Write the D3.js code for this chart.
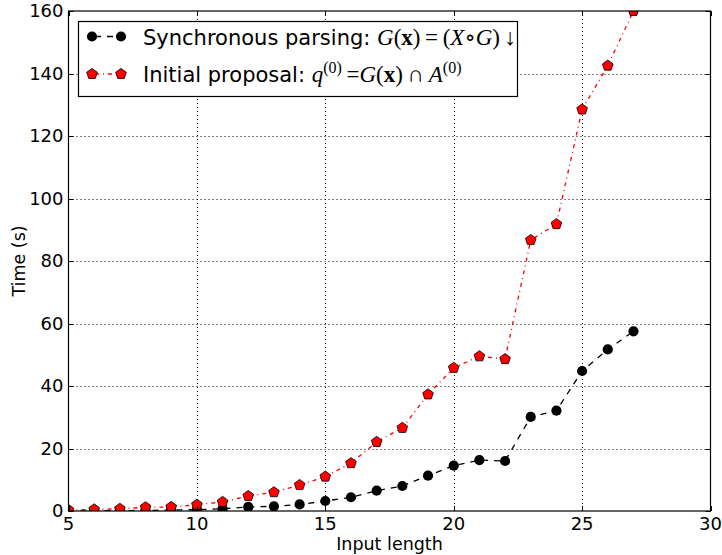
<!DOCTYPE html>
<html>
  <head>
    <meta charset="utf-8">
    <title>Parsing time vs input length</title>
    <style>
      body { margin: 0; background: #fff; }
      svg { display: block; font-family: "DejaVu Sans", sans-serif; }
      .tick-label { font-size: 18px; }
      .axis-label { font-size: 17.5px; }
      .legend-text { font-size: 21px; }
      .math { font-family: "Liberation Serif", "DejaVu Serif", serif; font-style: italic; font-size: 23px; }
      .up { font-style: normal; }
    </style>
  </head>
  <body>
    <svg id="chart" width="722" height="555"></svg>
    <script src="https://cdn.jsdelivr.net/npm/d3@7"></script>
    <script>
// data
var lengths = [5, 6, 7, 8, 9, 10, 11, 12, 13, 14, 15, 16, 17, 18, 19, 20, 21, 22, 23, 24, 25, 26, 27];
var syncTimes = [0.05, 0.08, 0.12, 0.2, 0.3, 0.45, 0.7, 1.3, 1.5, 2.1, 3.2, 4.4, 6.5, 8.0, 11.3, 14.5, 16.3, 16.0, 30.1, 32.1, 44.8, 51.7, 57.5];
var proposalTimes = [0.3, 0.5, 0.7, 1.2, 1.3, 2.0, 2.9, 4.8, 6.0, 8.3, 11.0, 15.3, 22.1, 26.6, 37.3, 45.8, 49.5, 48.6, 86.7, 91.8, 128.5, 142.5, 160];
var xTicks = [5, 10, 15, 20, 25, 30];
var yTicks = [0, 20, 40, 60, 80, 100, 120, 140, 160];

// plot box (named so it doesn't clash with window.top)
var pLeft = 68.5, pRight = 710.5, pTop = 11, pBottom = 511;
var svg = d3.select("#chart");

var x = d3.scaleLinear().domain([5, 30]).range([pLeft, pRight]);
var y = d3.scaleLinear().domain([0, 160]).range([pBottom, pTop]);

svg.append("defs").append("clipPath").attr("id", "plot-clip")
  .append("rect")
    .attr("x", pLeft).attr("y", pTop)
    .attr("width", pRight - pLeft).attr("height", pBottom - pTop);

// grid
var grid = svg.append("g").attr("stroke", "#000").attr("stroke-width", 1)
    .attr("stroke-dasharray", "1,3");
grid.selectAll(".gx").data(xTicks.slice(1, -1)).enter().append("line")
    .attr("x1", d => Math.round(x(d)) + 0.5).attr("x2", d => Math.round(x(d)) + 0.5)
    .attr("y1", pTop).attr("y2", pBottom);
grid.selectAll(".gy").data(yTicks.slice(1, -1)).enter().append("line")
    .attr("y1", d => Math.round(y(d)) + 0.5).attr("y2", d => Math.round(y(d)) + 0.5)
    .attr("x1", pLeft).attr("x2", pRight);

var plot = svg.append("g").attr("clip-path", "url(#plot-clip)");

var line = d3.line().x(d => x(d[0])).y(d => y(d[1]));
var syncData = d3.zip(lengths, syncTimes);
var propData = d3.zip(lengths, proposalTimes);

function pentagonPath(r) {
  var pts = d3.range(5).map(i => {
    var a = -Math.PI / 2 + i * 2 * Math.PI / 5;
    return [r * Math.cos(a), r * Math.sin(a)];
  });
  return "M" + pts.map(p => p.join(",")).join("L") + "Z";
}

plot.append("path").datum(syncData)
    .attr("d", line).attr("fill", "none")
    .attr("stroke", "#000").attr("stroke-width", 1.3)
    .attr("stroke-dasharray", "6,6");
plot.selectAll(".sync").data(syncData).enter().append("circle")
    .attr("cx", d => x(d[0])).attr("cy", d => y(d[1])).attr("r", 5.1)
    .attr("fill", "#000");

plot.append("path").datum(propData)
    .attr("d", line).attr("fill", "none")
    .attr("stroke", "#ff0000").attr("stroke-width", 1.3)
    .attr("stroke-dasharray", "4,4,1,4");
plot.selectAll(".prop").data(propData).enter().append("path")
    .attr("transform", d => "translate(" + x(d[0]) + "," + y(d[1]) + ")")
    .attr("d", pentagonPath(5.6))
    .attr("fill", "#ff0000").attr("stroke", "#000").attr("stroke-width", 0.8);

// frame
svg.append("rect")
    .attr("x", pLeft).attr("y", pTop)
    .attr("width", pRight - pLeft).attr("height", pBottom - pTop)
    .attr("fill", "none").attr("stroke", "#000").attr("stroke-width", 1.2);

// ticks (inside, all four sides)
var tickLen = 5;
var ticks = svg.append("g").attr("stroke", "#000").attr("stroke-width", 1);
xTicks.forEach(t => {
  var px = Math.round(x(t)) + 0.5;
  ticks.append("line").attr("x1", px).attr("x2", px).attr("y1", pBottom).attr("y2", pBottom - tickLen);
  ticks.append("line").attr("x1", px).attr("x2", px).attr("y1", pTop).attr("y2", pTop + tickLen);
});
yTicks.forEach(t => {
  var py = Math.round(y(t)) + 0.5;
  ticks.append("line").attr("y1", py).attr("y2", py).attr("x1", pLeft).attr("x2", pLeft + tickLen);
  ticks.append("line").attr("y1", py).attr("y2", py).attr("x1", pRight).attr("x2", pRight - tickLen);
});

svg.selectAll(".xl").data(xTicks).enter().append("text")
    .attr("class", "tick-label")
    .attr("x", d => x(d)).attr("y", 530)
    .attr("text-anchor", "middle")
    .text(d => d);
svg.selectAll(".yl").data(yTicks).enter().append("text")
    .attr("class", "tick-label")
    .attr("x", pLeft - 5).attr("y", d => y(d))
    .attr("dy", "0.36em")
    .attr("text-anchor", "end")
    .text(d => d);

svg.append("text").attr("class", "axis-label")
    .attr("x", (pLeft + pRight) / 2).attr("y", 550)
    .attr("text-anchor", "middle").text("Input length");
svg.append("text").attr("class", "axis-label")
    .attr("transform", "translate(25," + (pTop + pBottom) / 2 + ") rotate(-90)")
    .attr("text-anchor", "middle").text("Time (s)");

// legend
var legend = svg.append("g");
legend.append("rect")
    .attr("x", 78.5).attr("y", 21.5).attr("width", 439).attr("height", 75)
    .attr("fill", "#fff").attr("stroke", "#000").attr("stroke-width", 1.2);

var rowY = [36.5, 74];
legend.append("line").attr("x1", 92).attr("x2", 121).attr("y1", rowY[0]).attr("y2", rowY[0])
    .attr("stroke", "#000").attr("stroke-width", 1.3).attr("stroke-dasharray", "6,6")
    .attr("stroke-dashoffset", -3);
[92, 121].forEach(px => legend.append("circle").attr("cx", px).attr("cy", rowY[0]).attr("r", 5.1).attr("fill", "#000"));
legend.append("line").attr("x1", 92).attr("x2", 121).attr("y1", rowY[1]).attr("y2", rowY[1])
    .attr("stroke", "#ff0000").attr("stroke-width", 1.3).attr("stroke-dasharray", "4,4,1,4")
    .attr("stroke-dashoffset", -3);
[92, 121].forEach(px => legend.append("path")
    .attr("transform", "translate(" + px + "," + rowY[1] + ")")
    .attr("d", pentagonPath(5.6))
    .attr("fill", "#ff0000").attr("stroke", "#000").attr("stroke-width", 0.8));

function mathRun(text, parts) {
  parts.forEach(p => {
    var s = text.append("tspan").attr("class", "math" + (p.up ? " up" : "")).text(p.t);
    if (p.bold) s.style("font-weight", "bold");
    if (p.sup) s.style("font-size", "16px");
    if (p.dy) s.attr("dy", p.dy);
  });
}

var t1 = legend.append("text").attr("class", "legend-text").attr("x", 143).attr("y", 44.5);
t1.append("tspan").text("Synchronous parsing: ");
mathRun(t1, [
  {t: "G"}, {t: "(", up: 1}, {t: "x", up: 1, bold: 1}, {t: ")\u2009=\u2009(", up: 1},
  {t: "X"}, {t: "\u2218", up: 1}, {t: "G"}, {t: ")\u2009\u2193", up: 1}
]);

var t2 = legend.append("text").attr("class", "legend-text").attr("x", 143).attr("y", 81.5);
t2.append("tspan").text("Initial proposal: ");
mathRun(t2, [
  {t: "q"}, {t: "(0)", up: 1, sup: 1, dy: -9}, {t: "\u2009=", up: 1, dy: 9},
  {t: "G"}, {t: "(", up: 1}, {t: "x", up: 1, bold: 1}, {t: ")\u2009\u2229\u2009", up: 1},
  {t: "A"}, {t: "(0)", up: 1, sup: 1, dy: -9}
]);
    </script>
  </body>
</html>
